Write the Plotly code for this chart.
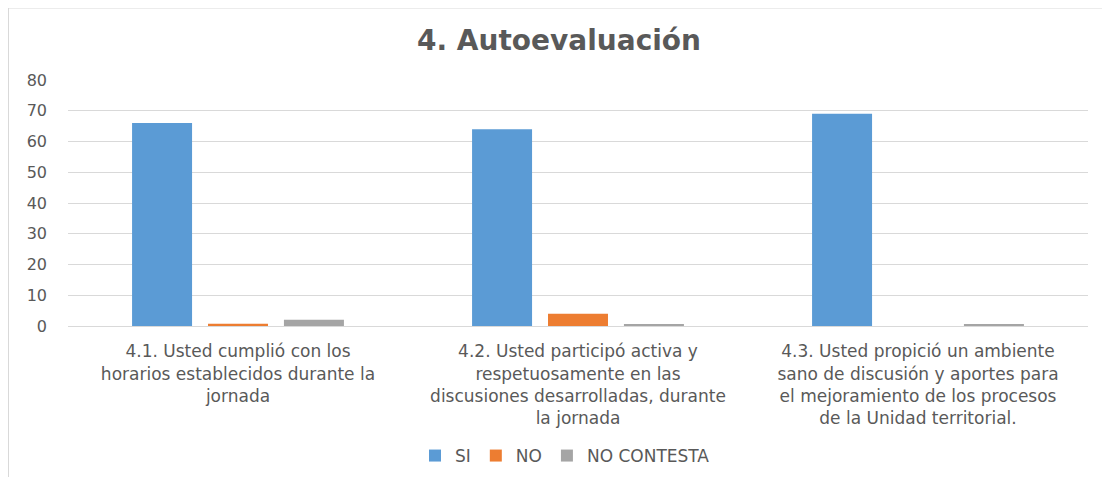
import plotly.graph_objects as go

categories = [
    "4.1. Usted cumplió con los<br>horarios establecidos durante la<br>jornada",
    "4.2. Usted participó activa y<br>respetuosamente en las<br>discusiones desarrolladas, durante<br>la jornada",
    "4.3. Usted propició un ambiente<br>sano de discusión y aportes para<br>el mejoramiento de los procesos<br>de la Unidad territorial.",
]
si = [66, 64, 69]
no = [0.7, 4, 0]
no_contesta = [2, 0.6, 0.6]

series = [("SI", si, "#5B9BD5"), ("NO", no, "#ED7D31"), ("NO CONTESTA", no_contesta, "#A5A5A5")]

OFF = 8  # page body margin
W, H = 1110 - OFF, 477 - OFF
# target pixel positions in the screenshot
PL, PR, PT, PB = 68, 1088, 80, 326
L, T = PL - OFF, PT - OFF
R = W - (PR - OFF)
B = H - (PB - OFF)

pw = W - L - R
ph = H - T - B
def px(x): return (x - PL) / pw
def py(y): return (PB - y) / ph

fig = go.Figure()
for name, vals, col in series:
    fig.add_trace(go.Bar(x=categories, y=vals, name=name, marker=dict(color=col, line=dict(width=0))))

fig.update_layout(
    width=W, height=H,
    margin=dict(l=L, r=R, t=T, b=B, autoexpand=False),
    paper_bgcolor="white", plot_bgcolor="white",
    font=dict(family="DejaVu Sans", size=16, color="#595959"),
    title=dict(text="<b>4. Autoevaluación</b>", x=0.5, xanchor="center", y=1 - (40 - OFF) / H, yanchor="middle",
               font=dict(family="DejaVu Sans", size=28, color="#595959")),
    barmode="group", bargap=0.33, bargroupgap=0.21,
    xaxis=dict(showgrid=False, showline=True, linecolor="#D9D9D9", linewidth=1, ticks="",
               tickfont=dict(size=17, color="#595959"), ticklabelstandoff=10),
    yaxis=dict(range=[0, 80], dtick=10, showgrid=True, gridcolor="#D9D9D9", gridwidth=1,
               zeroline=False, showline=False, ticks="", tickfont=dict(size=16, color="#595959"),
               ticklabelstandoff=20),
    legend=dict(orientation="h", x=px(565), xanchor="center", y=py(456), yanchor="middle",
                font=dict(size=17, color="#595959"), itemwidth=30, traceorder="normal"),
    shapes=[dict(type="line", xref="paper", yref="paper", x0=px(OFF), x1=px(1115), y0=py(OFF), y1=py(OFF),
                 line=dict(color="#D9D9D9", width=1)),
            dict(type="line", xref="paper", yref="paper", x0=px(OFF + 0.5), x1=px(OFF + 0.5), y0=py(OFF), y1=py(480),
                 line=dict(color="#D9D9D9", width=1))],
)
fig.write_html("out.html")
